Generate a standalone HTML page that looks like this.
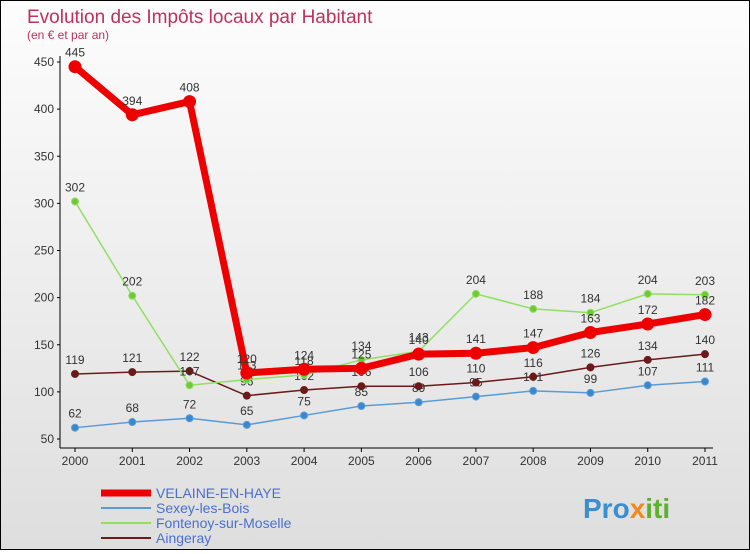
<!DOCTYPE html>
<html><head><meta charset="utf-8"><style>
body{margin:0;width:750px;height:550px;overflow:hidden;font-family:"Liberation Sans",sans-serif}
#wrap{position:absolute;left:0;top:0;width:748px;height:548px;border:1px solid #000;background:linear-gradient(#fdfdfd,#dedede)}
</style></head><body>
<div id="wrap">
<svg id="c" width="748" height="548">
<text x="26" y="22" font-size="19" fill="#c0305a">Evolution des Impôts locaux par Habitant</text>
<text x="26" y="38" font-size="12" fill="#c0305a">(en € et par an)</text>
<g id="axes"></g><g id="series"></g><g id="legend"></g>
<text x="582" y="517" font-size="28" font-weight="bold" fill="#3a8fd0">Pro<tspan fill="#f08a20">x</tspan><tspan fill="#60b030">iti</tspan></text>
</svg></div>
<script>
const years=[2000,2001,2002,2003,2004,2005,2006,2007,2008,2009,2010,2011];
const yTicks=[50,100,150,200,250,300,350,400,450];
const velaine=[445,394,408,120,124,125,140,141,147,163,172,182];
const sexey=[62,68,72,65,75,85,89,95,101,99,107,111];
const fontenoy=[302,202,107,113,118,134,143,204,188,184,204,203];
const aingeray=[119,121,122,96,102,106,106,110,116,126,134,140];
const NS='http://www.w3.org/2000/svg';
function X(i){return 74+i*(630/11);}
function Y(v){return 438-(v-50)*(377/400);}
function mk(t,a,p){const e=document.createElementNS(NS,t);for(const k in a)e.setAttribute(k,a[k]);p.appendChild(e);return e;}
const ax=document.getElementById('axes');
const yl=mk('line',{x1:59,y1:55,x2:59,y2:447,stroke:'#000'},ax);


const xl=mk('line',{x1:59,y1:447,x2:712,y2:447,stroke:'#000'},ax);


yTicks.forEach(v=>{
 mk('line',{x1:56,y1:Y(v),x2:59,y2:Y(v),stroke:'#000'},ax);
 const t=mk('text',{x:53,y:Y(v)+4,'font-size':12,fill:'#333','text-anchor':'end'},ax);t.textContent=v;
 
 
});
years.forEach((y,i)=>{
 mk('line',{x1:X(i),y1:447,x2:X(i),y2:451,stroke:'#000'},ax);
 const t=mk('text',{x:X(i),y:464,'font-size':12,fill:'#333','text-anchor':'middle'},ax);t.textContent=y;
 
 
});
const S=document.getElementById('series');
function draw(vals,color,w,r,dot,name){
 const g=mk('g',{},S);
 
 
 mk('polyline',{points:vals.map((v,i)=>X(i)+','+Y(v)).join(' '),fill:'none',stroke:color,'stroke-width':w,'stroke-linejoin':'round'},g);
 vals.forEach((v,i)=>{
  const c=mk('circle',{cx:X(i),cy:Y(v),r:r,fill:dot,stroke:color,'stroke-width':1},g);
  
  
  const t=mk('text',{x:X(i),y:Y(v)-10,'font-size':12,fill:'#333','text-anchor':'middle'},g);t.textContent=v;
  
  
 });
}
draw(sexey,'#5b9bd5',1.5,3.5,'#3a88cc','series-sexey');
draw(aingeray,'#6b1a1a',1.5,3.5,'#6b1a1a','series-aingeray');
draw(fontenoy,'#90e060',1.5,3.5,'#70c838','series-fontenoy');
draw(velaine,'#ee0000',7,6,'#ee0000','series-velaine');
const L=document.getElementById('legend');
[['VELAINE-EN-HAYE','#ee0000',7],['Sexey-les-Bois','#5b9bd5',2],['Fontenoy-sur-Moselle','#90e060',2],['Aingeray','#6b1a1a',2]].forEach((d,i)=>{
 const y=492+i*15;
 const g=mk('g',{},L);
 
 
 mk('line',{x1:100,y1:y,x2:150,y2:y,stroke:d[1],'stroke-width':d[2]},g);
 const t=mk('text',{x:155,y:y+5,'font-size':14,fill:'#4a6fd0'},g);t.textContent=d[0];
});
</script>
</body></html>
